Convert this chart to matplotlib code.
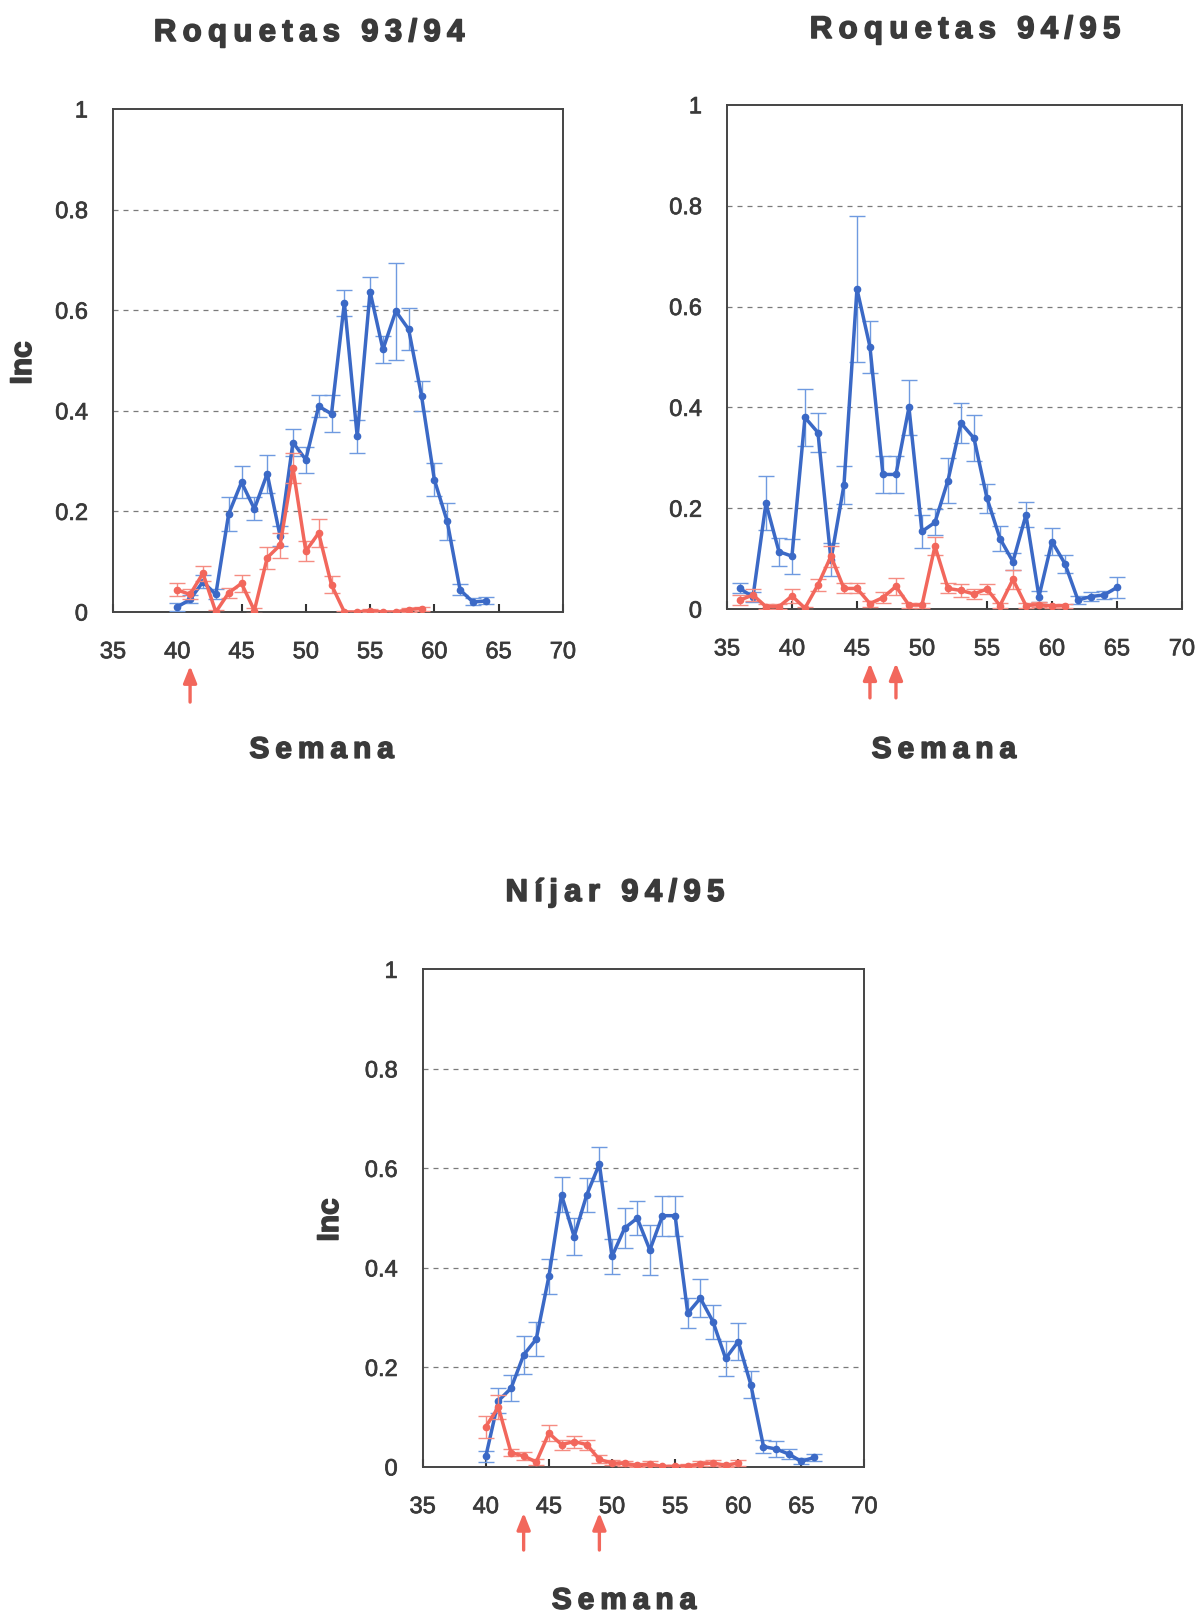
import numpy as np
import matplotlib
matplotlib.use("Agg")
import matplotlib.pyplot as plt
import matplotlib.patheffects as pe

# Roquetas 93/94
weeks_r93_b = list(range(40, 65))
inc_r93_b = [0.01, 0.025, 0.06, 0.035, 0.195, 0.258, 0.205, 0.275, 0.151, 0.337, 0.303, 0.409, 0.394,
             0.615, 0.349, 0.637, 0.522, 0.598, 0.562, 0.43, 0.263, 0.18, 0.044, 0.02, 0.022]
err_r93_b = [0.008, 0.008, 0.013, 0.01, 0.034, 0.032, 0.023, 0.038, 0.02, 0.027, 0.026, 0.022, 0.037,
             0.026, 0.033, 0.029, 0.026, 0.096, 0.042, 0.03, 0.033, 0.037, 0.011, 0.007, 0.007]
weeks_r93_r = list(range(40, 60))
inc_r93_r = [0.044, 0.035, 0.077, 0.0, 0.038, 0.057, 0.003, 0.108, 0.133, 0.286, 0.121, 0.157, 0.054,
             0.0, 0.0, 0.003, 0.0, 0.0, 0.005, 0.007]
err_r93_r = [0.013, 0.01, 0.015, 0.005, 0.01, 0.017, 0.005, 0.022, 0.025, 0.03, 0.02, 0.027, 0.017,
             0.003, 0.002, 0.003, 0.002, 0.002, 0.004, 0.004]
arrows_r93 = [41]

# Roquetas 94/95
weeks_r94_b = list(range(36, 66))
inc_r94_b = [0.041, 0.024, 0.21, 0.114, 0.105, 0.38, 0.35, 0.098, 0.246, 0.635, 0.52, 0.267, 0.267,
             0.40, 0.154, 0.172, 0.255, 0.369, 0.339, 0.22, 0.14, 0.094, 0.187, 0.025, 0.134, 0.09,
             0.018, 0.025, 0.028, 0.043]
err_r94_b = [0.01, 0.01, 0.053, 0.028, 0.035, 0.057, 0.039, 0.033, 0.037, 0.145, 0.052, 0.037, 0.037,
             0.054, 0.032, 0.026, 0.044, 0.04, 0.046, 0.029, 0.025, 0.017, 0.025, 0.01, 0.026, 0.018,
             0.008, 0.008, 0.008, 0.02]
weeks_r94_r = list(range(36, 62))
inc_r94_r = [0.018, 0.028, 0.005, 0.005, 0.026, 0.002, 0.048, 0.105, 0.041, 0.041, 0.011, 0.023, 0.045,
             0.008, 0.008, 0.125, 0.041, 0.037, 0.03, 0.04, 0.007, 0.059, 0.007, 0.009, 0.006, 0.007]
err_r94_r = [0.01, 0.012, 0.005, 0.005, 0.013, 0.003, 0.012, 0.021, 0.01, 0.01, 0.006, 0.01, 0.017,
             0.005, 0.005, 0.018, 0.01, 0.012, 0.01, 0.01, 0.005, 0.019, 0.005, 0.005, 0.004, 0.004]
arrows_r94 = [46, 48]

# Nijar 94/95
weeks_n94_b = list(range(40, 67))
inc_n94_b = [0.021, 0.133, 0.158, 0.225, 0.257, 0.383, 0.547, 0.463, 0.547, 0.609, 0.423, 0.48, 0.50,
             0.436, 0.505, 0.505, 0.309, 0.339, 0.292, 0.218, 0.252, 0.165, 0.041, 0.036, 0.026,
             0.011, 0.019]
err_n94_b = [0.012, 0.025, 0.026, 0.039, 0.035, 0.035, 0.035, 0.037, 0.034, 0.034, 0.035, 0.04, 0.034,
             0.05, 0.04, 0.04, 0.03, 0.038, 0.034, 0.035, 0.038, 0.027, 0.013, 0.017, 0.011, 0.006, 0.008]
weeks_n94_r = list(range(40, 61))
inc_n94_r = [0.081, 0.12, 0.029, 0.022, 0.01, 0.068, 0.045, 0.051, 0.045, 0.015, 0.008, 0.007, 0.003,
             0.006, 0.001, 0.001, 0.002, 0.006, 0.008, 0.003, 0.008]
err_n94_r = [0.022, 0.024, 0.008, 0.008, 0.006, 0.016, 0.01, 0.012, 0.01, 0.008, 0.005, 0.005, 0.004,
             0.005, 0.003, 0.003, 0.003, 0.005, 0.006, 0.004, 0.006]
arrows_n94 = [43, 49]

txt = '#3a3a3a'
blue = '#3b69c6'
blue_err = '#6f9ae0'
red = '#f2675c'
red_err = '#f58c82'
fam = ['Liberation Sans', 'DejaVu Sans']

plt.rcParams['font.family'] = fam

# heavier strokes for the bold headings
heavy = [pe.withStroke(linewidth=1.1, foreground=txt)]
semi = [pe.withStroke(linewidth=0.5, foreground=txt)]


def spaced(s):
    return '\u2009'.join(s)


fig = plt.figure(figsize=(11.99, 16.17), dpi=100)


def panel(rect, wb, yb, eb, wr, yr, er, arrows, arrow_y, xlab_pos):
    ax = fig.add_axes(rect)
    ax.errorbar(wb, yb, yerr=eb, fmt='none', ecolor=blue_err, elinewidth=1.0, capsize=6, capthick=1.0, zorder=3)
    ax.plot(wb, yb, '-o', color=blue, lw=2.5, ms=4.5, zorder=4)
    ax.errorbar(wr, yr, yerr=er, fmt='none', ecolor=red_err, elinewidth=1.0, capsize=6, capthick=1.0, zorder=5)
    ax.plot(wr, yr, '-o', color=red, lw=2.5, ms=4.5, zorder=6)
    ax.set_xlim(35, 70)
    ax.set_ylim(0, 1)
    ax.set_xticks(range(35, 71, 5))
    ax.set_yticks([0, 0.2, 0.4, 0.6, 0.8, 1])
    ax.set_yticklabels(['0', '0.2', '0.4', '0.6', '0.8', '1'])
    for g in [0.2, 0.4, 0.6, 0.8]:
        ax.axhline(g, color='#7a7a7a', lw=0.9, dashes=(4, 4), zorder=1)
    ax.tick_params(axis='x', direction='in', length=6, width=1.5, color='#333333',
                   pad=21, labelsize=17, labelcolor=txt)
    ax.tick_params(axis='y', length=0, pad=18, labelsize=17, labelcolor=txt)
    for lab in ax.get_xticklabels() + ax.get_yticklabels():
        lab.set_path_effects(semi)
    for sp in ax.spines.values():
        sp.set_color('#444444')
        sp.set_linewidth(1.4)
    ax.set_xlabel(spaced('Semana'), fontsize=21.5, fontweight='bold', color=txt, va='center',
                  path_effects=heavy)
    ax.xaxis.set_label_coords(*xlab_pos)
    for w in arrows:
        ax.annotate('', xy=(w, arrow_y[0]), xytext=(w, arrow_y[1]),
                    xycoords=('data', 'axes fraction'), textcoords=('data', 'axes fraction'),
                    arrowprops=dict(arrowstyle='-|>,head_length=1.0,head_width=0.4',
                                    color=red, lw=2.4, shrinkA=0, shrinkB=0))
    return ax


ax1 = panel([0.0942, 0.6215, 0.3753, 0.3111], weeks_r93_b, inc_r93_b, err_r93_b,
            weeks_r93_r, inc_r93_r, err_r93_r, arrows_r93, (-0.107, -0.179), (0.464, -0.274))
ax2 = panel([0.6063, 0.6233, 0.3795, 0.3119], weeks_r94_b, inc_r94_b, err_r94_b,
            weeks_r94_r, inc_r94_r, err_r94_r, arrows_r94, (-0.107, -0.176), (0.477, -0.279))
ax3 = panel([0.3525, 0.0928, 0.3685, 0.3077], weeks_n94_b, inc_n94_b, err_n94_b,
            weeks_n94_r, inc_n94_r, err_n94_r, arrows_n94, (-0.092, -0.167), (0.456, -0.269))

for x, y, s in [(309, 33, 'Roquetas 93/94'), (965, 30, 'Roquetas 94/95'), (615, 893, 'Níjar 94/95')]:
    fig.text(x / 1199, 1 - y / 1617, spaced(s), ha='center', va='center',
             fontsize=22.5, fontweight='bold', color=txt, path_effects=heavy)

fig.text(23 / 1199, 1 - 363 / 1617, 'Inc', rotation=90, ha='center', va='center',
         fontsize=21.5, fontweight='bold', color=txt, path_effects=heavy)
fig.text(330 / 1199, 1 - 1220 / 1617, 'Inc', rotation=90, ha='center', va='center',
         fontsize=21.5, fontweight='bold', color=txt, path_effects=heavy)

fig.savefig('out.png', dpi=100)
